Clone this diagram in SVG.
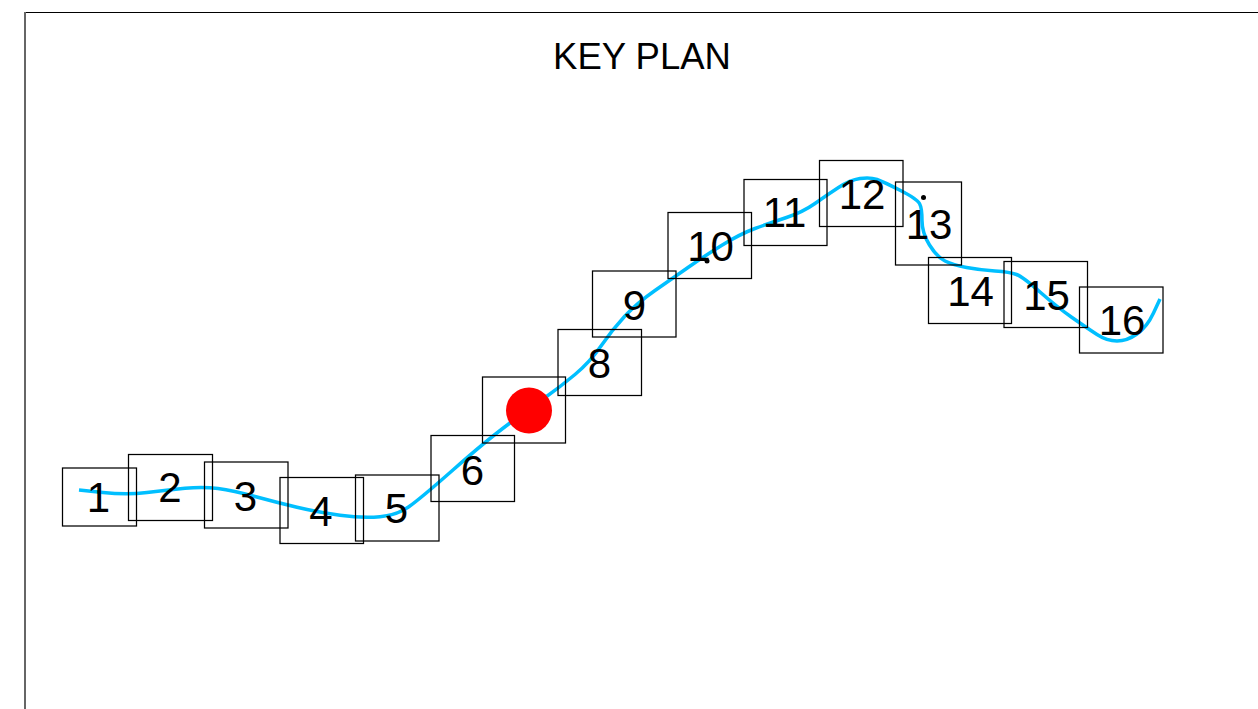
<svg xmlns="http://www.w3.org/2000/svg" width="1258" height="709" viewBox="0 0 1258 709">
<style>
.box{fill:none;stroke:#000;stroke-width:1.25}
.num{font-family:"Liberation Sans",Arial,sans-serif;font-size:42px;fill:#000;text-anchor:middle}
.route{fill:none;stroke:#00bfff;stroke-width:3.5;stroke-linejoin:round}
</style>
<rect width="1258" height="709" fill="#fff"/>
<g id="frame">
<path d="M25 12.5H1258" stroke="#000" stroke-width="1.2" fill="none"/>
<path d="M25 12V709" stroke="#666" stroke-width="2" fill="none"/>
</g>
<text id="title" x="642" y="69" font-family="'Liberation Sans',Arial,sans-serif" font-size="36.5" text-anchor="middle" fill="#000">KEY PLAN</text>
<g id="connectors">
<path class="route" d="M79 490L103 492.5Q127 495 147 492.5Q167 490 185 488.25Q203 486.5 218 488.5Q233 490.5 255 496.5Q277 502.5 297 507.25Q317 512 340 515.25Q363 518.5 380 516.75Q397 515 408.5 507Q420 499 453.5 469.5Q487 440 508 424.5Q529 409 544.5 398Q560 387 575 374.5Q590 362 601 346Q612 330 624.5 316.5Q637 303 655 290.5Q673 278 688 267.5Q703 257 721.5 245.5Q740 234 755 228.5Q770 223 786.5 217.5Q803 212 815 203.5Q827 195 838.5 187.5Q850 180 860 178.5Q870 177 877 179.5Q884 182 900.5 190.5Q917 199 919.5 203.5Q922 208 922 220.5Q922 233 929.5 245Q937 257 945 261Q953 265 966.5 267.5Q980 270 995 271Q1010 272 1016.5 274.5Q1023 277 1040 292Q1057 307 1072 317.5Q1087 328 1097 334.5Q1107 341 1117 341Q1127 341 1137 334Q1147 327 1153.5 313L1160 299"/>
</g>
<g id="node-1"><rect class="box" x="62.5" y="468" width="74" height="58"/><text class="num" x="98.5" y="512">1</text></g>
<g id="node-2"><rect class="box" x="128.5" y="454.5" width="84" height="66"/><text class="num" x="170" y="502">2</text></g>
<g id="node-3"><rect class="box" x="204.5" y="462" width="83.5" height="66"/><text class="num" x="245.5" y="511">3</text></g>
<g id="node-4"><rect class="box" x="280" y="477.5" width="83.5" height="66"/><text class="num" x="321" y="526">4</text></g>
<g id="node-5"><rect class="box" x="355.5" y="475" width="83.5" height="66"/><text class="num" x="396.5" y="523">5</text></g>
<g id="node-6"><rect class="box" x="431" y="435.5" width="83.5" height="66"/><text class="num" x="472.5" y="485">6</text></g>
<g id="node-7"><rect class="box" x="482.5" y="377" width="83" height="66"/><circle cx="529" cy="410.5" r="23" fill="#f00"/></g>
<g id="node-8"><rect class="box" x="558" y="329.5" width="83.5" height="66"/><text class="num" x="599.5" y="378">8</text></g>
<g id="node-9"><rect class="box" x="592.5" y="271" width="83.5" height="66"/><text class="num" x="634.5" y="320">9</text></g>
<g id="node-10"><rect class="box" x="668" y="212.5" width="83.5" height="66"/><text class="num" x="710.5" y="261">10</text><circle cx="707" cy="261" r="2.5" fill="#000"/></g>
<g id="node-11"><rect class="box" x="744" y="179.5" width="83" height="66"/><text class="num" x="784.5" y="227">11</text></g>
<g id="node-12"><rect class="box" x="819.5" y="160.5" width="83.5" height="66"/><text class="num" x="862" y="209">12</text></g>
<g id="node-13"><rect class="box" x="895.5" y="182" width="66" height="83"/><text class="num" x="929" y="239">13</text><circle cx="923.5" cy="197.5" r="2.5" fill="#000"/></g>
<g id="node-14"><rect class="box" x="928.5" y="257.5" width="83" height="66"/><text class="num" x="970.5" y="306">14</text></g>
<g id="node-15"><rect class="box" x="1004" y="261.5" width="83.5" height="66"/><text class="num" x="1046.5" y="310">15</text></g>
<g id="node-16"><rect class="box" x="1079.5" y="287" width="83.5" height="66"/><text class="num" x="1122" y="335">16</text></g>
</svg>
